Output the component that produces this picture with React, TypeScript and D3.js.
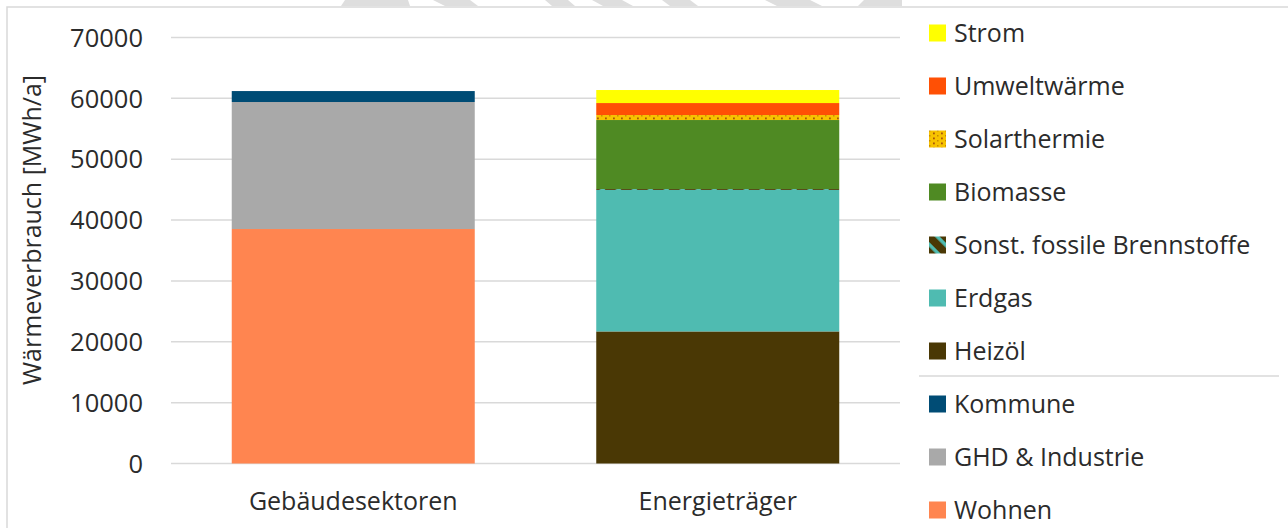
import React from "react";
import * as d3 from "d3";

const categories = ["Gebäudesektoren", "Energieträger"];

const sektorSeries = ["Wohnen", "GHD & Industrie", "Kommune"];
const sektorValues = [38530, 20870, 1800];

const traegerSeries = ["Heizöl", "Erdgas", "Sonst. fossile Brennstoffe", "Biomasse", "Solarthermie", "Umweltwärme", "Strom"];
const traegerValues = [21700, 23250, 150, 11340, 820, 1970, 2140];

const yTicks = [0, 10000, 20000, 30000, 40000, 50000, 60000, 70000];

const legendTop = ["Strom", "Umweltwärme", "Solarthermie", "Biomasse", "Sonst. fossile Brennstoffe", "Erdgas", "Heizöl"];
const legendBottom = ["Kommune", "GHD & Industrie", "Wohnen"];

const colors: Record<string, string> = {
  Wohnen: "#FF8550",
  "GHD & Industrie": "#A9A9A9",
  Kommune: "#004C75",
  "Heizöl": "#4A3805",
  Erdgas: "#4FBBB1",
  "Sonst. fossile Brennstoffe": "url(#patFossil)",
  Biomasse: "#4F8A23",
  Solarthermie: "url(#patSolar)",
  "Umweltwärme": "#FF5005",
  Strom: "#FFFF00",
};

// watermark fragments along the top edge (x at top, x at bottom)
const watermark = [
  [345, 408, 341, 410],
  [433, 470, 445, 478],
  [545, 568, 552, 575],
  [592, 622, 603, 633],
  [662, 690, 670, 698],
  [765, 810, 777, 822],
  [864, 902, 858, 902],
];

const FONT = "'Open Sans', 'Noto Sans', sans-serif";
const TEXT = "#2b2b2b";
const FS = 25;

export default function App() {
  const W = 1288, H = 528;
  const plotL = 171, plotR = 900, plotT = 37.5, plotB = 463.5;

  const x = d3.scaleBand<string>().domain(categories).range([plotL, plotR]).paddingInner(1 / 3).paddingOuter(1 / 6);
  const y = d3.scaleLinear().domain([0, 70000]).range([plotB, plotT]);

  const stackBars = (cat: string, series: string[], values: number[]) => {
    let acc = 0;
    return series.map((s, i) => {
      const y0 = acc;
      acc += values[i];
      return (
        <rect key={cat + s} x={x(cat)} width={x.bandwidth()} y={y(acc)} height={y(y0) - y(acc)} fill={colors[s]} />
      );
    });
  };

  const legX = 929, legTxt = 954, legY0 = 33, legStep = 53;

  const legendItem = (s: string, i: number) => (
    <g key={"l" + s}>
      <rect x={legX} y={legY0 + i * legStep - 8.5} width={17} height={17} fill={colors[s]} />
      <text x={legTxt} y={legY0 + i * legStep} dy="0.36em" fontSize={FS} fill={TEXT}>
        {s}
      </text>
    </g>
  );

  return (
    <svg width={W} height={H} style={{ position: "absolute", left: 0, top: 0, background: "#fff" }} fontFamily={FONT}>
      <defs>
        <pattern id="patSolar" patternUnits="userSpaceOnUse" width="8" height="5">
          <rect width="8" height="5" fill="#F7C300" />
          <rect x="1" y="0" width="1.5" height="1.5" fill="#C98A00" />
          <rect x="5" y="2.5" width="1.8" height="1.8" fill="#A8560A" />
        </pattern>
        <pattern id="patFossil" patternUnits="userSpaceOnUse" width="11.3" height="11.3" patternTransform="rotate(-45)">
          <rect width="11.3" height="11.3" fill="#4FBBB1" />
          <rect width="7.8" height="11.3" fill="#4A3805" />
        </pattern>
      </defs>

      {watermark.map((w, i) => (
        <polygon key={"wm" + i} points={`${w[0]},0 ${w[1]},0 ${w[3]},6 ${w[2]},6`} fill="#DEDEDE" />
      ))}

      <path d={`M7,${H + 2} L7,7 L${W + 2},7`} fill="none" stroke="#D9D9D9" strokeWidth={1.5} />

      {yTicks.map((t) => (
        <line key={"g" + t} x1={plotL} x2={plotR} y1={y(t)} y2={y(t)} stroke="#D9D9D9" strokeWidth={1.5} />
      ))}

      {stackBars(categories[0], sektorSeries, sektorValues)}
      {stackBars(categories[1], traegerSeries, traegerValues)}

      {yTicks.map((t) => (
        <text key={"t" + t} x={143} y={y(t)} dy="0.36em" textAnchor="end" fontSize={FS + 0.5} fill={TEXT}>
          {t}
        </text>
      ))}

      <text transform="translate(41,230) rotate(-90)" textAnchor="middle" fontSize={FS} fill={TEXT}>
        Wärmeverbrauch [MWh/a]
      </text>

      {categories.map((c) => (
        <text key={"x" + c} x={(x(c) as number) + x.bandwidth() / 2} y={510} textAnchor="middle" fontSize={FS} fill={TEXT}>
          {c}
        </text>
      ))}

      {legendTop.map((s, i) => legendItem(s, i))}
      <line x1={919} x2={1279} y1={376} y2={376} stroke="#D9D9D9" strokeWidth={1.5} />
      {legendBottom.map((s, j) => legendItem(s, j + legendTop.length))}
    </svg>
  );
}
